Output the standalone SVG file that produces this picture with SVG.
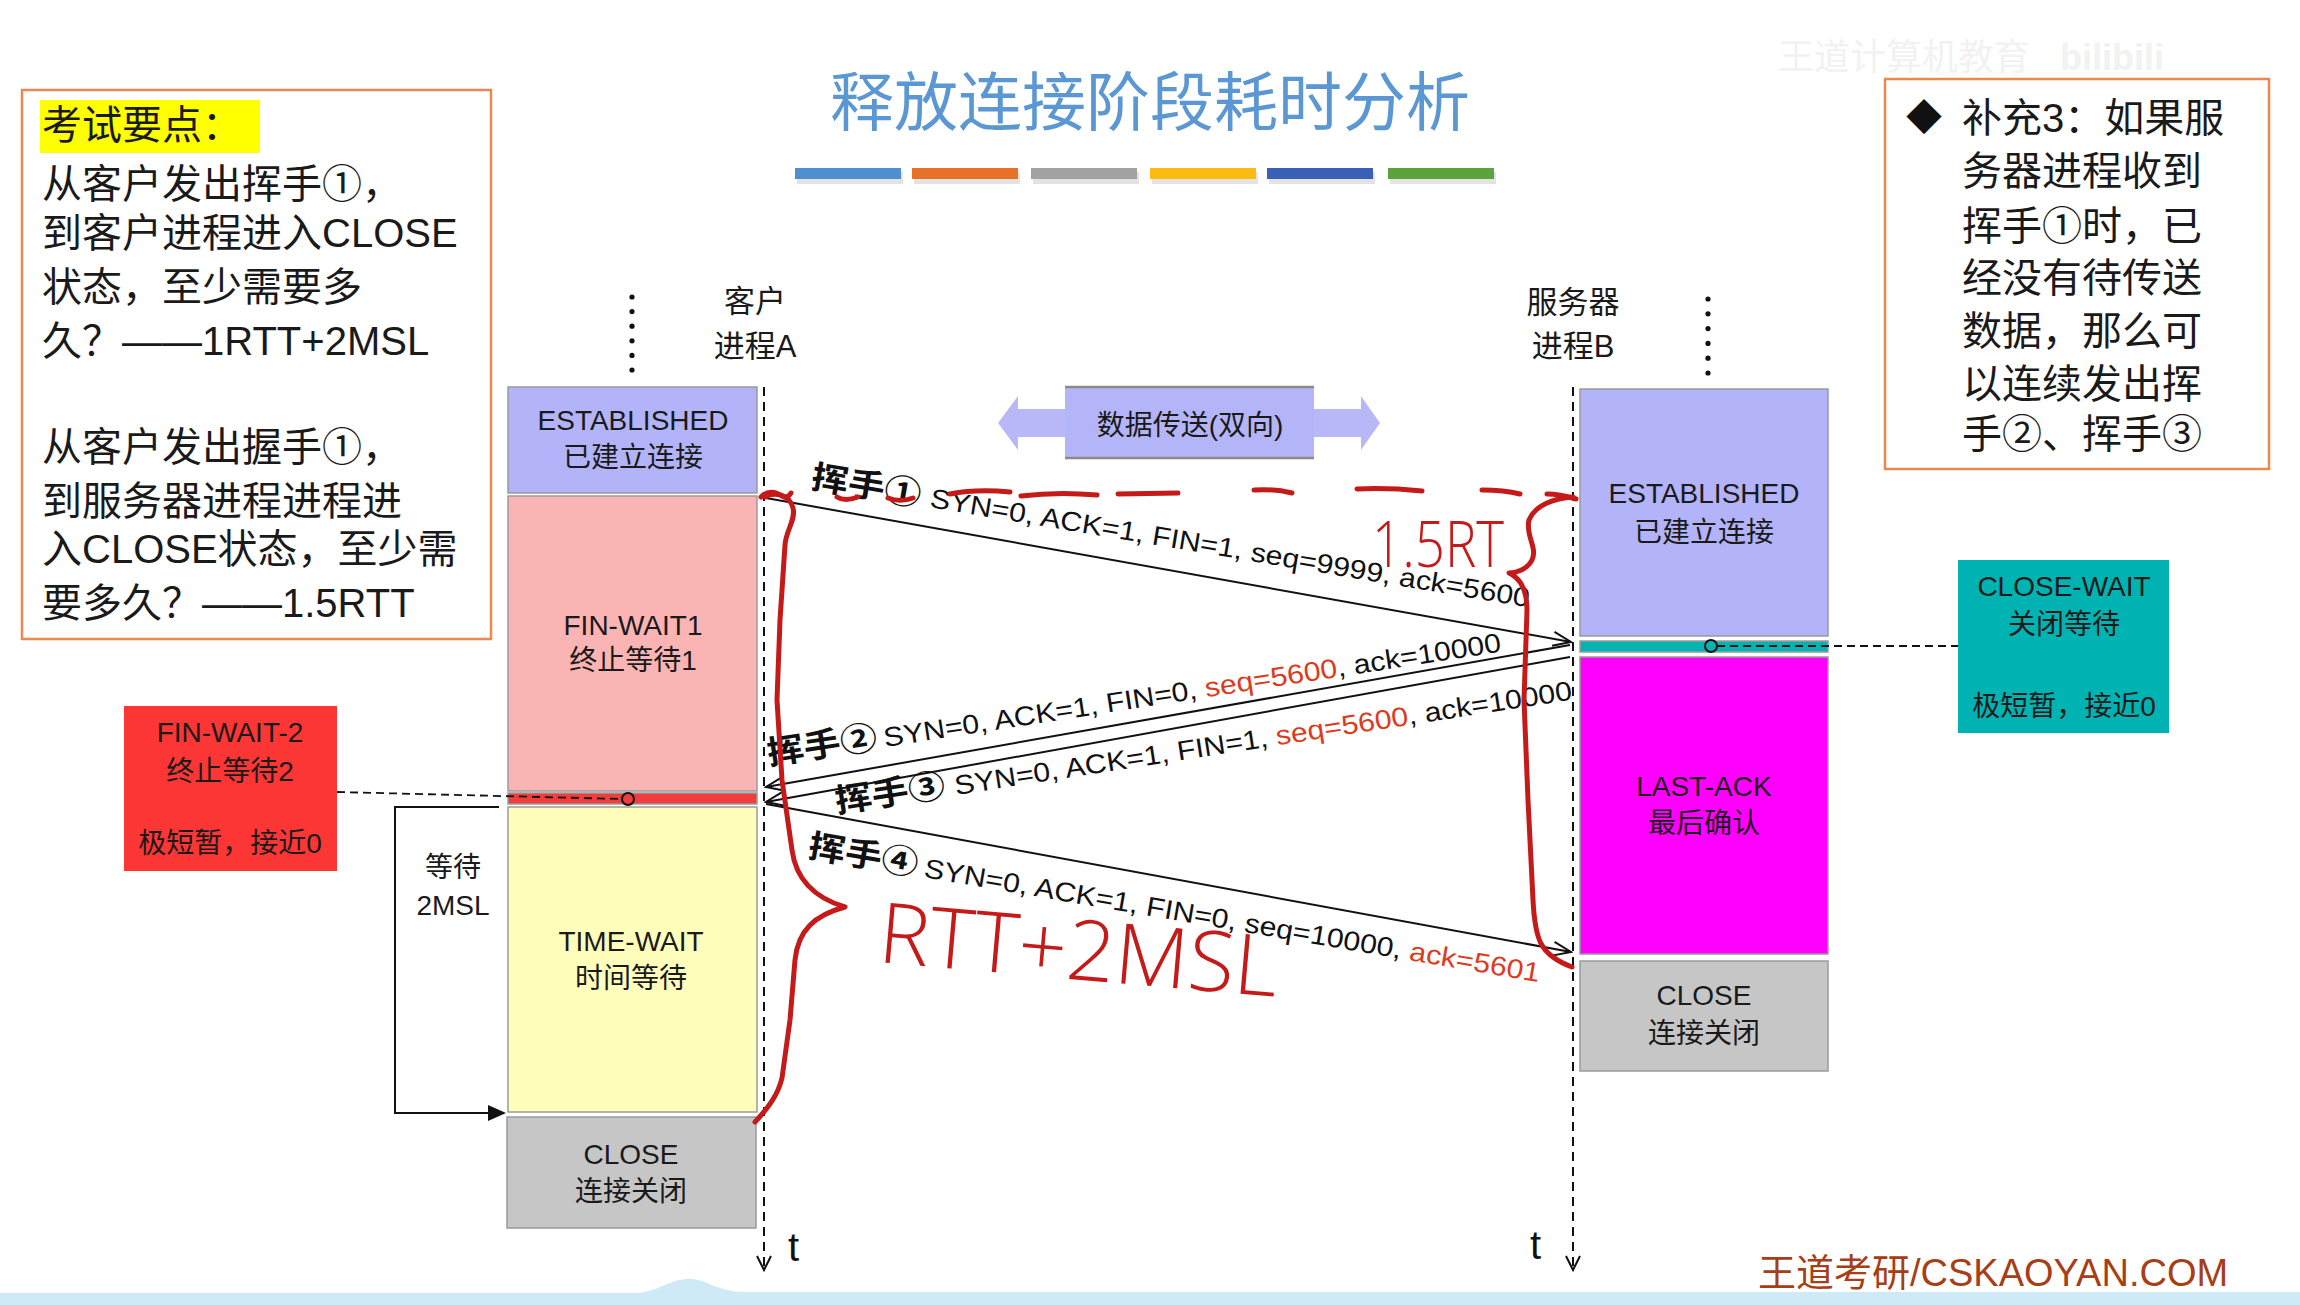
<svg xmlns="http://www.w3.org/2000/svg" width="2300" height="1305" viewBox="0 0 2300 1305">
<defs>
<style>
.cn{font-family:"Noto Sans CJK SC","Liberation Sans",sans-serif;}
.lat{font-family:"Liberation Sans","Noto Sans CJK SC",sans-serif;}
.st{font-family:"Liberation Sans","Noto Sans CJK SC",sans-serif;font-size:28px;fill:#1a1a1a;text-anchor:middle;}
.note{font-family:"Liberation Sans","Noto Sans CJK SC",sans-serif;font-size:40px;fill:#1a1a1a;}
.box{stroke:#9a9a9a;stroke-width:1.5;}
.life{stroke:#111;stroke-width:2;stroke-dasharray:9 6;fill:none;}
.msg{stroke:#111;stroke-width:2;fill:none;marker-end:url(#open);}
.hs{font-family:"Noto Sans CJK SC",sans-serif;font-size:33px;font-weight:bold;fill:#111;}
.lbl{font-family:"Liberation Sans","Noto Sans CJK SC",sans-serif;font-size:27px;fill:#111;}
.red{fill:#dd3b1e;}
.hand{stroke:#c41a1a;stroke-width:5;fill:none;stroke-linecap:round;stroke-linejoin:round;}
.handtxt{font-family:"Open Sans","Liberation Sans",sans-serif;font-weight:300;fill:#c41a1a;}
.dash{stroke:#111;stroke-width:1.8;stroke-dasharray:8 5;fill:none;}
</style>
<marker id="open" markerUnits="userSpaceOnUse" markerWidth="22" markerHeight="16" viewBox="0 0 22 16" refX="20" refY="8" orient="auto">
<path d="M2,1 L20,8 L2,15" fill="none" stroke="#111" stroke-width="2"/>
</marker>
</defs>
<rect width="2300" height="1305" fill="#ffffff"/>

<!-- watermark -->
<g id="watermark" opacity="0.5">
<text x="1778" y="70" class="cn" font-size="36" fill="#e6e6e6">王道计算机教育</text>
<text x="2060" y="70" class="lat" font-size="36" font-weight="bold" fill="#e6e6e6">bilibili</text>
</g>

<!-- title -->
<g id="title">
<text x="1150" y="125" class="cn" font-size="64" fill="#5b97d2" text-anchor="middle">释放连接阶段耗时分析</text>
<g id="color-bars">
<rect x="797" y="172" width="106" height="12" fill="#d0d0d0" opacity="0.6"/>
<rect x="914" y="172" width="106" height="12" fill="#d0d0d0" opacity="0.6"/>
<rect x="1033" y="172" width="106" height="12" fill="#d0d0d0" opacity="0.6"/>
<rect x="1152" y="172" width="106" height="12" fill="#d0d0d0" opacity="0.6"/>
<rect x="1269" y="172" width="106" height="12" fill="#d0d0d0" opacity="0.6"/>
<rect x="1390" y="172" width="106" height="12" fill="#d0d0d0" opacity="0.6"/>
<rect x="795" y="168" width="106" height="11" fill="#4e8fcf"/>
<rect x="912" y="168" width="106" height="11" fill="#e8712a"/>
<rect x="1031" y="168" width="106" height="11" fill="#a2a2a2"/>
<rect x="1150" y="168" width="106" height="11" fill="#fbbb10"/>
<rect x="1267" y="168" width="106" height="11" fill="#3a5fb6"/>
<rect x="1388" y="168" width="106" height="11" fill="#5ba33a"/>
</g>
</g>

<!-- left note -->
<g id="note-left">
<rect x="22" y="90" width="469" height="549" fill="#ffffff" stroke="#e9894f" stroke-width="2.5"/>
<rect x="40" y="100" width="220" height="53" fill="#ffff00"/>
<text x="42" y="139" class="note">考试要点：</text>
<text x="42" y="198" class="note">从客户发出挥手①，</text>
<text x="42" y="247" class="note">到客户进程进入CLOSE</text>
<text x="42" y="301" class="note">状态，至少需要多</text>
<text x="42" y="355" class="note">久？——1RTT+2MSL</text>
<text x="42" y="461" class="note">从客户发出握手①，</text>
<text x="42" y="515" class="note">到服务器进程进程进</text>
<text x="42" y="563" class="note">入CLOSE状态，至少需</text>
<text x="42" y="617" class="note">要多久？——1.5RTT</text>
</g>

<!-- right note -->
<g id="note-right">
<rect x="1885" y="79" width="384" height="390" fill="#ffffff" stroke="#e9894f" stroke-width="2.5"/>
<text x="1906" y="131" class="cn" font-size="36" fill="#111">◆</text>
<text x="1962" y="132" class="note" font-size="41">补充3：如果服</text>
<text x="1962" y="185" class="note" font-size="41">务器进程收到</text>
<text x="1962" y="240" class="note" font-size="41">挥手①时，已</text>
<text x="1962" y="292" class="note" font-size="41">经没有待传送</text>
<text x="1962" y="345" class="note" font-size="41">数据，那么可</text>
<text x="1962" y="398" class="note" font-size="41">以连续发出挥</text>
<text x="1962" y="448" class="note" font-size="41">手②、挥手③</text>
</g>

<!-- headers -->
<g id="client-header">
<text x="755" y="312" class="cn" font-size="31" fill="#1a1a1a" text-anchor="middle">客户</text>
<text x="755" y="357" class="lat" font-size="31" fill="#1a1a1a" text-anchor="middle">进程A</text>
<g fill="#111">
<circle cx="632" cy="297" r="2.6"/><circle cx="632" cy="311.6" r="2.6"/><circle cx="632" cy="326.2" r="2.6"/>
<circle cx="632" cy="340.8" r="2.6"/><circle cx="632" cy="355.4" r="2.6"/><circle cx="632" cy="370" r="2.6"/>
</g>
</g>
<g id="server-header">
<text x="1573" y="313" class="cn" font-size="31" fill="#1a1a1a" text-anchor="middle">服务器</text>
<text x="1573" y="357" class="lat" font-size="31" fill="#1a1a1a" text-anchor="middle">进程B</text>
<g fill="#111">
<circle cx="1708" cy="299" r="2.6"/><circle cx="1708" cy="313.8" r="2.6"/><circle cx="1708" cy="328.6" r="2.6"/>
<circle cx="1708" cy="343.4" r="2.6"/><circle cx="1708" cy="358.2" r="2.6"/><circle cx="1708" cy="373" r="2.6"/>
</g>
</g>

<!-- client states -->
<g id="client-established">
<rect x="508" y="387" width="249" height="106" fill="#b3b3f9" class="box"/>
<text x="633" y="430" class="st">ESTABLISHED</text>
<text x="633" y="467" class="st">已建立连接</text>
</g>
<g id="client-fin-wait1">
<rect x="508" y="496" width="249" height="295" fill="#fbb4b4" class="box"/>
<text x="633" y="635" class="st">FIN-WAIT1</text>
<text x="633" y="670" class="st">终止等待1</text>
</g>
<g id="client-fin-wait2-band">
<rect x="508" y="793" width="249" height="11" fill="#f23d3d" class="box"/>
</g>
<g id="client-time-wait">
<rect x="508" y="807" width="249" height="305" fill="#ffffbb" class="box"/>
<text x="631" y="951" class="st">TIME-WAIT</text>
<text x="631" y="988" class="st">时间等待</text>
</g>
<g id="client-close">
<rect x="507" y="1117" width="249" height="111" fill="#c6c6c6" class="box"/>
<text x="631" y="1164" class="st">CLOSE</text>
<text x="631" y="1201" class="st">连接关闭</text>
</g>

<!-- server states -->
<g id="server-established">
<rect x="1580" y="389" width="248" height="247" fill="#b3b3f9" class="box"/>
<text x="1704" y="503" class="st">ESTABLISHED</text>
<text x="1704" y="542" class="st">已建立连接</text>
</g>
<g id="server-close-wait-band">
<rect x="1580" y="641" width="248" height="11" fill="#06b3b3" class="box"/>
</g>
<g id="server-last-ack">
<rect x="1580" y="657" width="248" height="297" fill="#ff00ff" class="box"/>
<text x="1704" y="796" class="st">LAST-ACK</text>
<text x="1704" y="833" class="st">最后确认</text>
</g>
<g id="server-close">
<rect x="1580" y="961" width="248" height="110" fill="#c6c6c6" class="box"/>
<text x="1704" y="1005" class="st">CLOSE</text>
<text x="1704" y="1043" class="st">连接关闭</text>
</g>

<!-- callout boxes -->
<g id="fin-wait-2-callout">
<rect x="124" y="706" width="213" height="165" fill="#fc3535"/>
<text x="230" y="742" class="st">FIN-WAIT-2</text>
<text x="230" y="781" class="st">终止等待2</text>
<text x="230" y="853" class="st">极短暂，接近0</text>
</g>
<g id="close-wait-callout">
<rect x="1958" y="560" width="211" height="173" fill="#00b3b3"/>
<text x="2064" y="596" class="st">CLOSE-WAIT</text>
<text x="2064" y="634" class="st">关闭等待</text>
<text x="2064" y="716" class="st">极短暂，接近0</text>
</g>
<g id="wait-2msl-label">
<text x="453" y="877" class="st">等待</text>
<text x="453" y="915" class="st">2MSL</text>
</g>

<!-- data transfer -->
<g id="data-transfer">
<polygon points="998,423 1018,396 1018,409 1361,409 1361,396 1380,423 1361,450 1361,437 1018,437 1018,450" fill="#b8b8f8"/>
<rect x="1065" y="387" width="249" height="71" fill="#b4b4f8"/>
<line x1="1065" y1="387" x2="1314" y2="387" stroke="#8a8a8a" stroke-width="2.5"/>
<line x1="1065" y1="458" x2="1314" y2="458" stroke="#8a8a8a" stroke-width="2.5"/>
<text x="1190" y="435" class="st">数据传送(双向)</text>
</g>

<!-- connectors -->
<g id="connectors">
<path class="life" d="M764,387 V1268"/>
<path d="M757,1256 L764,1270 L771,1256" fill="none" stroke="#111" stroke-width="2"/>
<path class="life" d="M1573,387 V1268"/>
<path d="M1566,1256 L1573,1270 L1580,1256" fill="none" stroke="#111" stroke-width="2"/>
<text x="788" y="1261" class="lat" font-size="40" fill="#111">t</text>
<text x="1530" y="1259" class="lat" font-size="40" fill="#111">t</text>

<path class="msg" d="M766,498 L1571,642"/>
<path class="msg" d="M1570,645 L766,787"/>
<path class="msg" d="M1570,657 L766,802"/>
<path class="msg" d="M766,804 L1571,952"/>

<path class="dash" d="M337,792 L622,799"/>
<circle cx="628" cy="799" r="6" fill="#f23d3d" stroke="#111" stroke-width="2"/>
<path class="dash" d="M1717,646 L1958,646"/>
<circle cx="1711" cy="646" r="6" fill="#06b3b3" stroke="#111" stroke-width="2"/>

<polyline points="499,807 395,807 395,1113 490,1113" fill="none" stroke="#111" stroke-width="2"/>
<polygon points="488,1105 506,1113 488,1121" fill="#111"/>

<text class="hs" transform="translate(810,488) rotate(9.5) scale(1.12,1)">挥手①</text>
<text class="lbl" transform="translate(929,507) rotate(9.5) scale(1.12,1)">SYN=0, ACK=1, FIN=1, seq=9999, ack=5600</text>

<text class="hs" transform="translate(769,765) rotate(-8.8) scale(1.12,1)">挥手②</text>
<text class="lbl" transform="translate(885,747) rotate(-8.8) scale(1.12,1)">SYN=0, ACK=1, FIN=0, <tspan class="red">seq=5600</tspan>, ack=10000</text>

<text class="hs" transform="translate(837,813) rotate(-8.8) scale(1.12,1)">挥手③</text>
<text class="lbl" transform="translate(956,795) rotate(-8.8) scale(1.12,1)">SYN=0, ACK=1, FIN=1, <tspan class="red">seq=5600</tspan>, ack=10000</text>

<text class="hs" transform="translate(807,857) rotate(9.7) scale(1.12,1)">挥手④</text>
<text class="lbl" transform="translate(923,877) rotate(9.7) scale(1.12,1)">SYN=0, ACK=1, FIN=0, seq=10000, <tspan class="red">ack=5601</tspan></text>
</g>

<!-- handwritten annotations -->
<g id="annotations">
<path class="hand" stroke-width="3.5" d="M761,497 C768,490 776,492 782,496 C786,499 790,495 791,493"/>
<path class="hand" stroke-width="3.5" d="M837,497 C843,501 850,500 858,497"/>
<path class="hand" stroke-width="3.5" d="M888,498 C895,501 905,501 913,498"/>
<path class="hand" stroke-width="3.5" d="M950,494 C970,490 990,490 1010,492"/>
<path class="hand" stroke-width="3.5" d="M1021,496 C1045,493 1075,493 1097,495"/>
<path class="hand" stroke-width="3.5" d="M1118,494 L1178,493"/>
<path class="hand" stroke-width="3.5" d="M1254,490 C1268,489 1280,490 1292,493"/>
<path class="hand" stroke-width="3.5" d="M1357,489 C1380,488 1402,489 1422,491"/>
<path class="hand" stroke-width="3.5" d="M1482,490 C1495,490 1508,491 1520,494"/>
<path class="hand" stroke-width="3.5" d="M1547,494 C1557,494 1566,496 1576,499"/>

<path class="hand" d="M765,497 C775,491 790,495 793,508 C796,520 786,530 785,545 L780,620 L777,700 L782,780 L792,850 C796,880 815,898 845,907 C815,915 798,930 795,960 L790,1020 L782,1078 C778,1095 768,1108 755,1122"/>
<path class="hand" d="M1573,497 C1555,498 1535,505 1529,520 C1525,535 1538,548 1532,560 C1527,570 1515,573 1509,573 C1520,578 1527,590 1527,610 L1524,700 L1528,800 L1533,900 C1535,940 1540,955 1572,967"/>

<text class="handtxt" x="1372" y="567" font-size="64" textLength="132" lengthAdjust="spacingAndGlyphs">1.5RT</text>
<text class="handtxt" transform="translate(877,962) rotate(5)" font-size="84" textLength="400" lengthAdjust="spacingAndGlyphs">RTT+2MSL</text>
</g>

<!-- footer -->
<g id="footer">
<path d="M0,1293 L640,1293 C660,1290 670,1279 690,1279 C705,1279 715,1290 740,1292 L2300,1292 L2300,1305 L0,1305 Z" fill="#cdeaf6"/>
<text x="1758" y="1286" class="lat" font-size="38" fill="#a63e16">王道考研/CSKAOYAN.COM</text>
</g>
</svg>
